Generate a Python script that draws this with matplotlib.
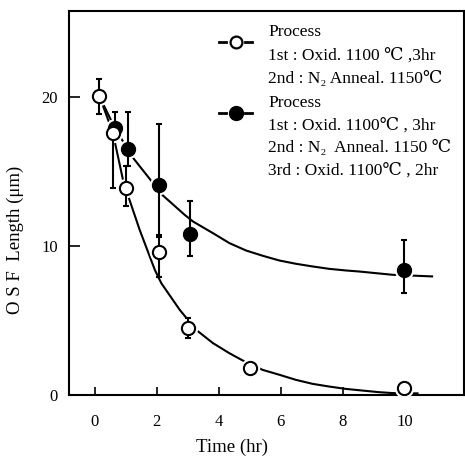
import matplotlib

matplotlib.use("Agg")
import matplotlib.pyplot as plt

SERIF = ["Liberation Serif", "DejaVu Serif", "Noto Sans CJK JP"]
plt.rcParams["font.family"] = SERIF

# measured points, 1st oxid + N2 anneal (open circles)
open_t = [0.13, 0.6, 1.0, 2.08, 3.0, 5.0, 9.95]
open_y = [20.1, 17.6, 13.9, 9.6, 4.5, 1.8, 0.45]
open_lo = [18.9, 13.9, 12.7, 7.95, 3.8, 1.8, 0.45]
open_hi = [21.2, 17.6, 15.35, 10.75, 5.15, 1.8, 0.45]

# measured points, + 3rd oxid (filled circles)
fill_t = [0.66, 1.09, 2.08, 3.08, 9.98]
fill_y = [17.95, 16.5, 14.1, 10.8, 8.4]
fill_lo = [17.95, 15.4, 10.6, 9.3, 6.85]
fill_hi = [19.0, 19.0, 18.2, 13.05, 10.4]

# hand-drawn trend curves
open_curve_t = [0.17, 0.59, 0.93, 1.45, 1.94, 2.15, 2.74, 3.27, 3.81, 4.34, 4.77, 5.41, 5.95,
                6.48, 7.02, 7.55, 8.09, 8.62, 9.16, 9.59, 10.4]
open_curve_y = [20.0, 17.6, 14.3, 11.1, 8.4, 7.5, 5.72, 4.37, 3.48, 2.8, 2.31, 1.68, 1.35,
                1.01, 0.74, 0.56, 0.4, 0.29, 0.18, 0.12, 0.1]
fill_curve_t = [0.17, 0.66, 1.25, 1.78, 2.2, 2.9, 3.17, 3.81, 4.34, 4.88, 5.41, 5.95, 6.48,
                7.02, 7.55, 8.09, 8.52, 9.59, 10.87]
fill_curve_y = [20.0, 17.9, 15.9, 14.5, 13.4, 12.1, 11.65, 10.87, 10.2, 9.7, 9.35, 9.03, 8.81,
                8.63, 8.47, 8.36, 8.29, 8.07, 7.96]

XTICKS = [0, 2, 4, 6, 8, 10]
YTICKS = [0, 10, 20]

fig = plt.figure(figsize=(4.65, 4.57), dpi=100)
ax = fig.add_axes([0.148, 0.136, 0.85, 0.840])

ax.plot(open_curve_t, open_curve_y, color="black", lw=1.5, zorder=2)
ax.plot(fill_curve_t, fill_curve_y, color="black", lw=1.5, zorder=2)

# white halo so the curves break around the markers
ax.plot(open_t, open_y, "o", ms=13, color="white", mec="white", zorder=3)
ax.plot(fill_t, fill_y, "o", ms=13, color="white", mec="white", zorder=3)

yerr_o = [[y - lo for y, lo in zip(open_y, open_lo)], [hi - y for y, hi in zip(open_y, open_hi)]]
yerr_f = [[y - lo for y, lo in zip(fill_y, fill_lo)], [hi - y for y, hi in zip(fill_y, fill_hi)]]
ax.errorbar(fill_t, fill_y, yerr=yerr_f, fmt="none", ecolor="black", elinewidth=1.5, capsize=2.5, capthick=1.5, zorder=4)
ax.errorbar(open_t, open_y, yerr=yerr_o, fmt="none", ecolor="black", elinewidth=1.5, capsize=2.5, capthick=1.5, zorder=4)
ax.plot(fill_t, fill_y, "o", ms=10, color="black", zorder=5)
ax.plot(open_t, open_y, "o", ms=9.5, mfc="white", mec="black", mew=1.5, zorder=5)

ax.set_xlim(-0.83, 11.9)
ax.set_ylim(0, 25.8)
ax.set_xticks(XTICKS)
ax.set_yticks(YTICKS)
ax.tick_params(axis="x", direction="in", length=6, width=1.2, pad=14, labelsize=12)
ax.tick_params(axis="y", direction="in", length=8, width=1.2, pad=8, labelsize=12)
for s in ax.spines.values():
    s.set_linewidth(1.5)


def px(x, y):
    return x / 465, 1 - y / 457


# legend, drawn by hand
for (cx, cy), filled in [((236, 42), False), ((236, 113), True)]:
    a, yy = px(cx - 17, cy)
    b, _ = px(cx - 10, cy)
    c, _ = px(cx + 9, cy)
    d, _ = px(cx + 16, cy)
    fig.add_artist(plt.Line2D([a, b], [yy, yy], color="black", lw=2))
    fig.add_artist(plt.Line2D([c, d], [yy, yy], color="black", lw=2))
    xc, yc = px(cx, cy)
    if filled:
        fig.add_artist(plt.Line2D([xc], [yc], marker="o", ms=10, color="black"))
    else:
        fig.add_artist(plt.Line2D([xc], [yc], marker="o", ms=8.5, mfc="white", mec="black", mew=1.6))

legend_lines = [
    (32, "Process"),
    (56, "1st : Oxid. 1100 ℃ ,3hr"),
    (79, "2nd : N₂ Anneal. 1150℃"),
    (103, "Process"),
    (126, "1st : Oxid. 1100℃ , 3hr"),
    (148, "2nd : N₂  Anneal. 1150 ℃"),
    (171, "3rd : Oxid. 1100℃ , 2hr"),
]
for y, txt in legend_lines:
    fig.text(268 / 465, 1 - y / 457, txt, fontsize=12.5, va="center", ha="left", family=SERIF)

fig.text(15 / 465, 1 - 240 / 457, "O S F  Length (μm)", rotation=90, fontsize=13.5, va="center", ha="center", family=SERIF)
fig.text(232 / 465, 1 - 447 / 457, "Time (hr)", fontsize=13.5, va="center", ha="center", family=SERIF)

fig.savefig("out.png", dpi=100)
